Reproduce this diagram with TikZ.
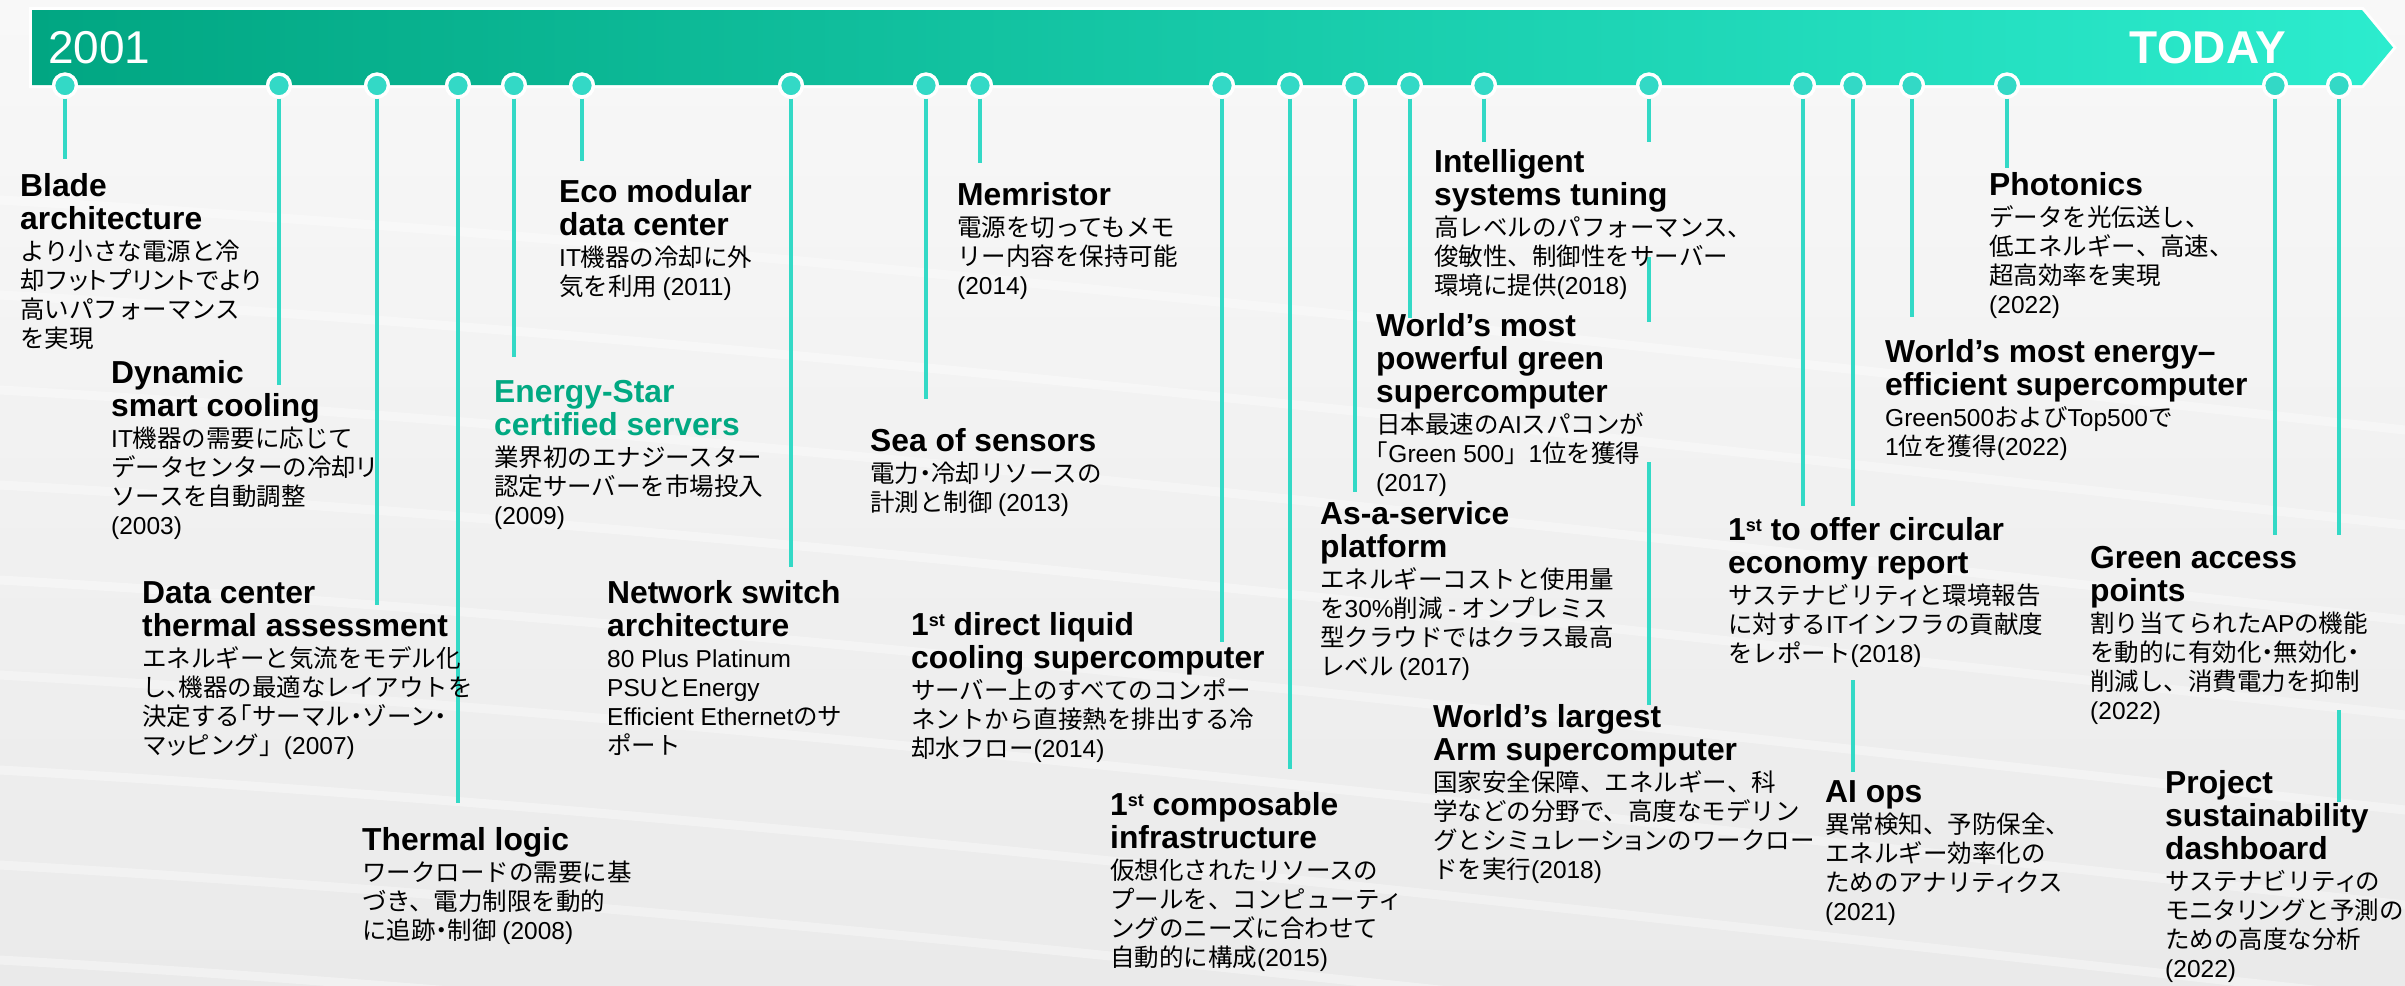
\documentclass[tikz,border=0pt]{standalone}
\usepackage{fontspec}
\setmainfont{Liberation Sans}
\newfontfamily\jpfont{Noto Sans CJK JP}
\newfontfamily\jphalt[RawFeature=+halt]{Noto Sans CJK JP}
\newfontfamily\jppalt[RawFeature=+palt]{Noto Sans CJK JP}
\newfontfamily\latfont{Liberation Sans}
\definecolor{hpegreen}{HTML}{01A982}
\definecolor{bannerL}{HTML}{01A682}
\definecolor{bannerR}{HTML}{2CECCE}
\definecolor{dotc}{HTML}{33D9C6}
\definecolor{bgtop}{HTML}{F8F8F8}
\definecolor{bgbot}{HTML}{EAEAEA}
\newcommand\la[1]{{\latfont #1}}
\newcommand\hw[1]{{\jphalt #1}}
\newcommand\nk[1]{{\jppalt #1}}
\newcommand\st{\raisebox{9pt}{\fontsize{18}{18}\selectfont st}}
\newcommand\itm[3][black]{%
\begin{minipage}[t]{430pt}\raggedright\lineskiplimit=-200pt\lineskip=0pt
{\fontsize{31.8}{33}\selectfont\bfseries\leavevmode\color{#1}#2\par}\vspace{2pt}%
{\fontsize{24.5}{29}\selectfont\jpfont\leavevmode #3\par}\end{minipage}}
\begin{document}
\begin{tikzpicture}[x=1pt,y=-1pt,
  conn/.style={draw=dotc, line width=4.3pt},
  dotn/.style={circle, fill=dotc, draw=white, line width=3.3pt, minimum size=22.7pt, inner sep=0pt},
  itemn/.style={inner sep=0pt, anchor=base west},
  streak/.style={white, line width=9pt, opacity=0.35, line cap=round}]
\useasboundingbox (0,0) rectangle (2405,985);
% background
\shade[top color=bgtop, bottom color=bgbot] (0,0) rectangle (2405,985);
\foreach \o in {0,95,...,900}{
  \draw[streak] (0,200+\o) .. controls (700,240+\o) and (1400,320+\o) .. (2405,430+\o);
}
% banner
\draw[white, line width=6pt, line join=miter] (32,10) -- (2362,10) -- (2393,47.5) -- (2362,85) -- (32,85) -- cycle;
\shade[left color=bannerL, right color=bannerR] (32,10) -- (2362,10) -- (2393,47.5) -- (2362,85) -- (32,85) -- cycle;
\node[inner sep=0pt, anchor=base west, text=white, font=\fontsize{46}{46}\selectfont] (y2001) at (48,63) {2001};
\node[inner sep=0pt, anchor=base east, text=white, font=\fontsize{46}{46}\selectfont\bfseries] (today) at (2286,63) {TODAY};
% dots
\foreach \n/\x in {1/65,2/279,3/377,4/458,5/514,6/582,7/791,8/926,9/980,10/1222,11/1290,12/1355,13/1410,14/1484,15/1649,16/1803,17/1853,18/1912,19/2007,20/2275,21/2339}{
  \node[dotn] (d\n) at (\x,85.5) {};
}
% line ends
\coordinate (e1) at (65,159);
\coordinate (e2) at (279,385);
\coordinate (e3) at (377,605);
\coordinate (e4) at (458,803);
\coordinate (e5) at (514,357);
\coordinate (e6) at (582,161);
\coordinate (e7) at (791,567);
\coordinate (e8) at (926,399);
\coordinate (e9) at (980,163);
\coordinate (e10) at (1222,642);
\coordinate (e11) at (1290,769);
\coordinate (e12) at (1355,492);
\coordinate (e13) at (1410,318);
\coordinate (e14) at (1484,142);
\coordinate (e15) at (1649,142);
\coordinate (s15b) at (1649,257);
\coordinate (e15b) at (1649,322);
\coordinate (s15c) at (1649,462);
\coordinate (e15c) at (1649,705);
\coordinate (e16) at (1803,506);
\coordinate (e17) at (1853,506);
\coordinate (s17b) at (1853,680);
\coordinate (e17b) at (1853,772);
\coordinate (e18) at (1912,317);
\coordinate (e19) at (2007,168);
\coordinate (e20) at (2275,535);
\coordinate (e21) at (2339,535);
\coordinate (s21b) at (2339,710);
\coordinate (e21b) at (2339,802);
\foreach \n in {1,...,21}{ \draw[conn] (d\n.south) -- (e\n); }
\draw[conn] (s15b) -- (e15b);
\draw[conn] (s15c) -- (e15c);
\draw[conn] (s17b) -- (e17b);
\draw[conn] (s21b) -- (e21b);
% dots redrawn on top of line starts
\foreach \n in {1,...,21}{
  \node[dotn] at (d\n) {};
}
% items
\node[itemn] (t1) at (20,196) {\itm{Blade\\architecture}{より小さな電源と冷\\却フ\nk{ット}プ\nk{リ}ン\nk{ト}で\nk{より}\\高いパフォーマンス\\を実現}};
\node[itemn] (t2) at (111,383) {\itm{Dynamic\\smart cooling}{\la{IT}機器の需要に応じて\\データセンターの冷却\nk{リ}\\ソースを自動調整\\\la{(2003)}}};
\node[itemn] (t3) at (142,603) {\itm{Data center\\thermal assessment}{エネルギーと気流をモデル化\\し\hw{、}機器の最適なレイアウトを\\決定する\hw{「}サーマル\hw{・}ゾーン\hw{・}\\マ\nk{ッ}ピング」\la{(2007)}}};
\node[itemn] (t4) at (362,850) {\itm{Thermal logic}{ワークロードの需要に基\\づき、電力制限を動的\\に追跡\hw{・}制御 \la{(2008)}}};
\node[itemn] (t5) at (494,402) {\itm[hpegreen]{Energy-Star\\certified servers}{業界初のエナジースター\\認定サーバーを市場投入\\\la{(2009)}}};
\node[itemn] (t6) at (559,202) {\itm{Eco modular\\data center}{\la{IT}機器の冷却に外\\気を利用 \la{(2011)}}};
\node[itemn] (t7) at (607,603) {\itm{Network switch\\architecture}{\la{80 Plus Platinum}\\\la{PSU}と\la{Energy}\\\la{Efficient Ethernet}のサ\\ポート}};
\node[itemn] (t8) at (957,205) {\itm{Memristor}{電源を切ってもメモ\\リー内容を保持可能\\\la{(2014)}}};
\node[itemn] (t9) at (870,451) {\itm{Sea of sensors}{電力\hw{・}冷却リソースの\\計測と制御 \la{(2013)}}};
\node[itemn] (t10) at (911,635) {\itm{1\st{} direct liquid\\cooling supercomputer}{サーバー上のすべてのコンポー\\ネントから直接熱を排出する冷\\却水フロー\la{(2014)}}};
\node[itemn] (t11) at (1110,815) {\itm{1\st{} composable\\infrastructure}{仮想化されたリソースの\\プールを、コンピューテ\nk{ィ}\\ングのニーズに合わせて\\自動的に構成\la{(2015)}}};
\node[itemn] (t12) at (1320,524) {\itm{As-a-service\\platform}{エネルギーコストと使用量\\を\la{30\%}削減 \la{-} オンプレミス\\型クラウドではクラス最高\\レベル \la{(2017)}}};
\node[itemn] (t13) at (1376,336) {\itm{World’s most\\powerful green\\supercomputer}{日本最速の\la{AI}スパコンが\\\hw{「}\la{Green 500}」\la{1}位を獲得\\\la{(2017)}}};
\node[itemn] (t14) at (1434,172) {\itm{Intelligent\\systems tuning}{高レベルのパフォーマンス、\\俊敏性、制御性をサーバー\\環境に提供\la{(2018)}}};
\node[itemn] (t15) at (1433,727) {\itm{World’s largest\\Arm supercomputer}{国家安全保障、エネルギー、科\\学などの分野で、高度なモデリン\\グとシミ\nk{ュ}レーシ\nk{ョ}ンのワークロー\\ドを実行\la{(2018)}}};
\node[itemn] (t16) at (1728,540) {\itm{1\st{} to offer circular\\economy report}{サステナビリテ\nk{ィ}と環境報告\\に対する\la{IT}インフラの貢献度\\をレポート\la{(2018)}}};
\node[itemn] (t17) at (1825,802) {\itm{AI ops}{異常検知、予防保全、\\エネルギー効率化の\\ためのアナリテ\nk{ィ}クス\\\la{(2021)}}};
\node[itemn] (t18) at (1885,362) {\itm{World’s most energy–\\efficient supercomputer}{\la{Green500}および\la{Top500}で\\\la{1}位を獲得\la{(2022)}}};
\node[itemn] (t19) at (1989,195) {\itm{Photonics}{データを光伝送し、\\低エネルギー、高速、\\超高効率を実現\\\la{(2022)}}};
\node[itemn] (t20) at (2090,568) {\itm{Green access\\points}{割り当てられた\la{AP}の機能\\を動的に有効化\hw{・}無効化\hw{・}\\削減し、消費電力を抑制\\\la{(2022)}}};
\node[itemn] (t21) at (2165,793) {\itm{Project\\sustainability\\dashboard}{サステナビリテ\nk{ィ}の\\モ\nk{ニ}タ\nk{リ}ングと予測の\\ための高度な分析\\\la{(2022)}}};
\end{tikzpicture}
\end{document}
